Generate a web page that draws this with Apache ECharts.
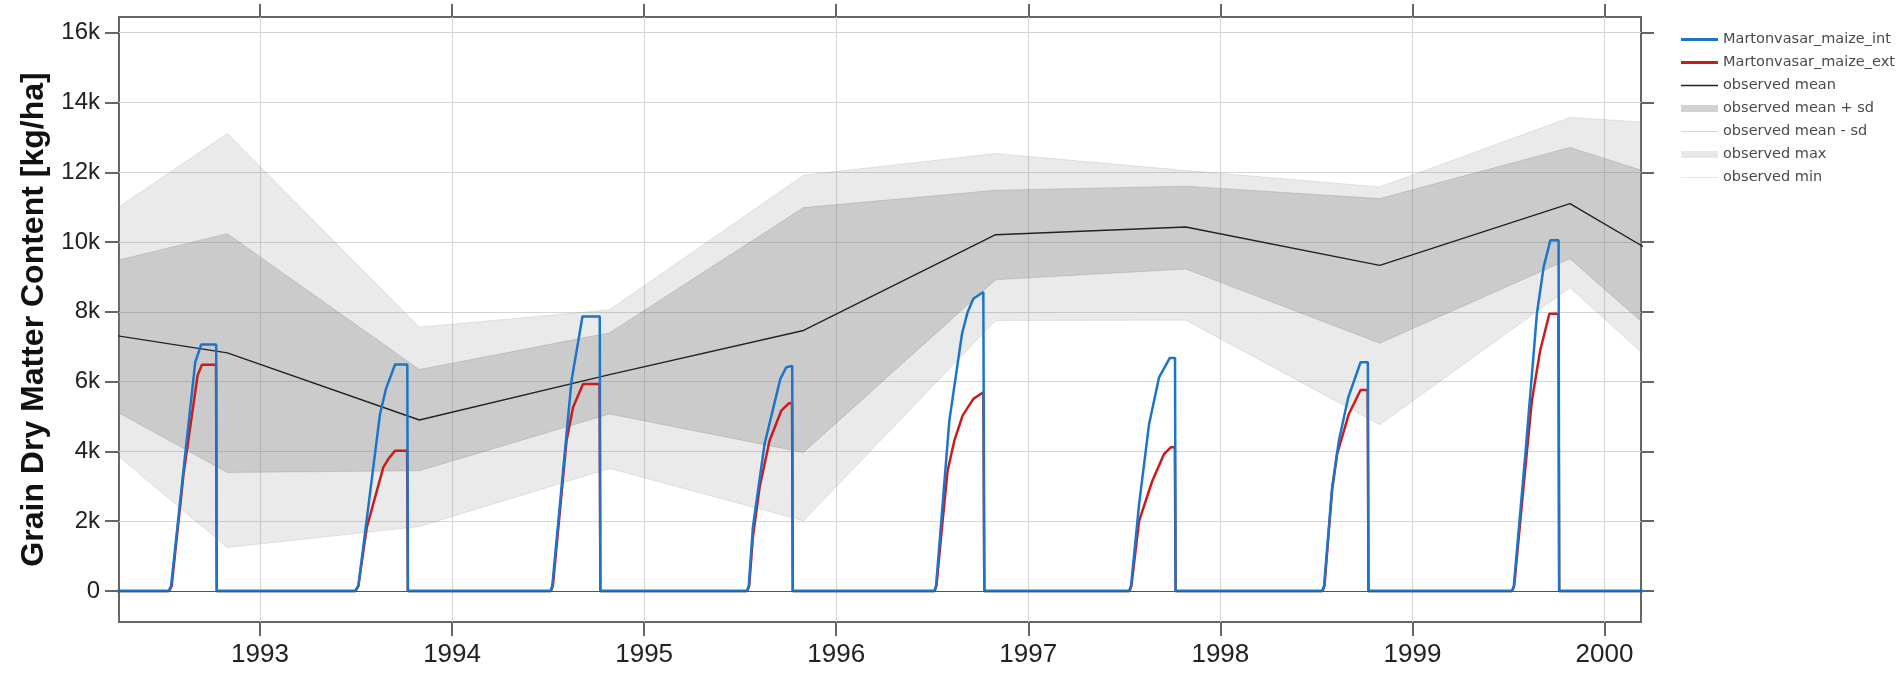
<!DOCTYPE html>
<html>
<head>
<meta charset="utf-8">
<script src="https://cdn.jsdelivr.net/npm/echarts@6/dist/echarts.min.js"></script>
<style>
html,body{margin:0;padding:0;background:#fff;}
#chart{width:1903px;height:673px;}
</style>
</head>
<body>
<div id="chart"></div>
<script>
// ---- tick labels ----
const xTicks = [1993, 1994, 1995, 1996, 1997, 1998, 1999, 2000];
const yTicks = [0, 2000, 4000, 6000, 8000, 10000, 12000, 14000, 16000];

// ---- observations (decimal year of harvest) ----
const obsDates        = [1991.83, 1992.83, 1993.83, 1994.82, 1995.83, 1996.83, 1997.82, 1998.83, 1999.82, 2000.82];
const obsMean         = [7677, 6825, 4900, 6200, 7465, 10211, 10431, 9331, 11102, 7867];
const obsMeanPlusSd   = [8907, 10241, 6345, 7399, 10987, 11485, 11600, 11245, 12710, 10959];
const obsMeanMinusSd  = [6421, 3397, 3445, 5073, 3971, 8920, 9226, 7101, 9523, 4673];
const obsMax          = [9387, 13110, 7560, 8059, 11915, 12538, 12050, 11580, 13572, 13223];
const obsMin          = [5857, 1244, 1846, 3512, 2010, 7752, 7762, 4766, 8691, 3705];

// ---- simulated series [decimal year, kg/ha] ----
const simInt = [
  [1992.20, 0],
  [1992.524, 0], [1992.537, 140], [1992.602, 3480], [1992.663, 6556], [1992.694, 7063], [1992.772, 7063], [1992.775, 0],
  [1993.495, 0], [1993.512, 140], [1993.625, 5073], [1993.656, 5791], [1993.703, 6489], [1993.767, 6489], [1993.770, 0],
  [1994.513, 0], [1994.522, 150], [1994.622, 6029], [1994.679, 7867], [1994.769, 7867], [1994.772, 0],
  [1995.535, 0], [1995.545, 150], [1995.566, 1818], [1995.627, 4211], [1995.709, 6077], [1995.740, 6411], [1995.771, 6450], [1995.774, 0],
  [1996.511, 0], [1996.520, 150], [1996.589, 4881], [1996.655, 7370], [1996.684, 7991], [1996.714, 8375], [1996.766, 8566], [1996.771, 0],
  [1997.525, 0], [1997.535, 150], [1997.577, 2488], [1997.629, 4786], [1997.681, 6124], [1997.737, 6680], [1997.764, 6680], [1997.767, 0],
  [1998.530, 0], [1998.540, 150], [1998.582, 2966], [1998.617, 4307], [1998.666, 5550], [1998.730, 6555], [1998.768, 6555], [1998.771, 0],
  [1999.518, 0], [1999.528, 150], [1999.588, 3925], [1999.648, 7944], [1999.683, 9282], [1999.718, 10048], [1999.761, 10048], [1999.764, 0],
  [2000.25, 0]
];
const simExt = [
  [1992.20, 0],
  [1992.527, 0], [1992.540, 140], [1992.602, 3350], [1992.675, 6173], [1992.698, 6486], [1992.771, 6486], [1992.775, 0],
  [1993.498, 0], [1993.512, 140], [1993.556, 1818], [1993.642, 3540], [1993.668, 3780], [1993.703, 4019], [1993.766, 4019], [1993.770, 0],
  [1994.515, 0], [1994.525, 150], [1994.596, 4307], [1994.630, 5263], [1994.682, 5934], [1994.768, 5934], [1994.772, 0],
  [1995.537, 0], [1995.547, 150], [1995.566, 1531], [1995.601, 2966], [1995.653, 4307], [1995.714, 5168], [1995.753, 5378], [1995.770, 5378], [1995.774, 0],
  [1996.513, 0], [1996.522, 150], [1996.554, 2010], [1996.580, 3445], [1996.615, 4307], [1996.658, 5025], [1996.714, 5504], [1996.766, 5694], [1996.771, 0],
  [1997.527, 0], [1997.537, 150], [1997.577, 2010], [1997.646, 3158], [1997.707, 3925], [1997.742, 4115], [1997.763, 4115], [1997.767, 0],
  [1998.532, 0], [1998.542, 150], [1998.582, 2900], [1998.608, 3925], [1998.669, 5073], [1998.730, 5761], [1998.767, 5761], [1998.771, 0],
  [1999.520, 0], [1999.530, 150], [1999.588, 3540], [1999.622, 5455], [1999.665, 6890], [1999.713, 7944], [1999.760, 7944], [1999.764, 0],
  [2000.25, 0]
];

const names = {
  int: 'Martonvasar_maize_int',
  ext: 'Martonvasar_maize_ext',
  mean: 'observed mean',
  plus: 'observed mean + sd',
  minus: 'observed mean - sd',
  max: 'observed max',
  min: 'observed min'
};

const pair = (arr) => obsDates.map((t, i) => [t, arr[i]]);

const chart = echarts.init(document.getElementById('chart'), null, {renderer: 'canvas'});

const xMin = 1992.266, xMax = 2000.19;
const yMin = -890, yMax = 16450;

const axisColor = '#666';
const gridColor = '#d4d4d4';

const line = (name, data, color, width, extra) => Object.assign({
  name, type: 'line', data, showSymbol: false, symbol: 'none',
  lineStyle: {color, width}, itemStyle: {color},
  emphasis: {disabled: true}, animation: false, clip: true
}, extra || {});

// filled band between two observed series, drawn through the axis scales
const band = (id, hi, lo, fill) => ({
  id, type: 'custom', silent: true, clip: true, animation: false,
  data: [[obsDates[1], hi[1]]],
  renderItem: (params, api) => {
    const top = obsDates.map((t, i) => api.coord([t, hi[i]]));
    const bot = obsDates.map((t, i) => api.coord([t, lo[i]])).reverse();
    const cs = params.coordSys;
    return {
      type: 'group',
      clipPath: {type: 'rect', shape: {x: cs.x, y: cs.y, width: cs.width, height: cs.height}},
      children: [{type: 'polygon', shape: {points: top.concat(bot)}, style: {fill}}]
    };
  }
});

chart.setOption({
  backgroundColor: '#fff',
  animation: false,
  grid: {left: 119, right: 262, top: 17, bottom: 51, show: true, borderColor: axisColor, borderWidth: 2, backgroundColor: 'transparent'},
  legend: {
    orient: 'vertical', left: 1676, top: 27, itemWidth: 37, itemHeight: 14, itemGap: 8,
    selectedMode: false,
    textStyle: {fontFamily: 'DejaVu Sans', fontSize: 14.5, color: '#4a4a4a'},
    data: [
      {name: names.int, icon: 'path://M0 0H37V3H0Z', itemStyle: {color: '#1b75c9', borderWidth: 0}},
      {name: names.ext, icon: 'path://M0 0H37V3H0Z', itemStyle: {color: '#cc1b1b', borderWidth: 0}},
      {name: names.mean, icon: 'path://M0 0H37V1.5H0Z', itemStyle: {color: '#222', borderWidth: 0}},
      {name: names.plus, icon: 'path://M0 0H37V7H0Z', itemStyle: {color: '#d2d2d2', borderWidth: 0}},
      {name: names.minus, icon: 'path://M0 0H37V1H0Z', itemStyle: {color: '#d6d6d6', borderWidth: 0}},
      {name: names.max, icon: 'path://M0 0H37V7H0Z', itemStyle: {color: '#e8e8e8', borderWidth: 0}},
      {name: names.min, icon: 'path://M0 0H37V1H0Z', itemStyle: {color: '#e8e8e8', borderWidth: 0}}
    ]
  },
  xAxis: [{
    type: 'value', min: xMin, max: xMax, splitNumber: 8, position: 'bottom',
    axisLine: {show: false, onZero: false},
    axisTick: {show: true, inside: false, length: 14, customValues: xTicks, lineStyle: {color: axisColor, width: 2}},
    axisLabel: {customValues: xTicks, margin: 20, color: '#222', fontFamily: 'Liberation Sans, Arial, sans-serif', fontSize: 26, formatter: (v) => String(Math.round(v))},
    splitLine: {show: true, lineStyle: {color: gridColor, width: 1}}
  }, {
    type: 'value', min: xMin, max: xMax, splitNumber: 8, position: 'top',
    axisLine: {show: false, onZero: false},
    axisTick: {show: true, inside: false, length: 13, customValues: xTicks, lineStyle: {color: axisColor, width: 2}},
    axisLabel: {show: false},
    splitLine: {show: false}
  }],
  yAxis: [{
    type: 'value', min: yMin, max: yMax, splitNumber: 8, position: 'left',
    name: 'Grain Dry Matter Content [kg/ha]', nameLocation: 'middle', nameGap: 63, nameRotate: 90,
    nameTextStyle: {fontFamily: 'Liberation Sans, Arial, sans-serif', fontWeight: 'bold', fontSize: 32, color: '#111'},
    axisLine: {show: false, onZero: false},
    axisTick: {show: true, inside: false, length: 14, customValues: yTicks, lineStyle: {color: axisColor, width: 2}},
    axisLabel: {customValues: yTicks, margin: 19, color: '#222', fontFamily: 'Liberation Sans, Arial, sans-serif', fontSize: 24,
      formatter: (v) => v === 0 ? '0' : (v / 1000) + 'k'},
    splitLine: {show: true, lineStyle: {color: gridColor, width: 1}}
  }, {
    type: 'value', min: yMin, max: yMax, splitNumber: 8, position: 'right',
    axisLine: {show: false, onZero: false},
    axisTick: {show: true, inside: false, length: 13, customValues: yTicks, lineStyle: {color: axisColor, width: 2}},
    axisLabel: {show: false},
    splitLine: {show: false}
  }],
  series: [
    band('rangeBand', obsMax, obsMin, 'rgba(128,128,128,0.17)'),
    band('sdBand', obsMeanPlusSd, obsMeanMinusSd, 'rgba(128,128,128,0.29)'),
    line(names.min, pair(obsMin), 'rgba(150,150,150,0.22)', 1, {
      markLine: {silent: true, symbol: 'none', label: {show: false}, animation: false,
        lineStyle: {color: '#555', width: 1, type: 'solid'}, data: [{yAxis: 0}]}
    }),
    line(names.max, pair(obsMax), 'rgba(150,150,150,0.22)', 1),
    line(names.minus, pair(obsMeanMinusSd), 'rgba(110,110,110,0.22)', 1),
    line(names.plus, pair(obsMeanPlusSd), 'rgba(110,110,110,0.22)', 1),
    line(names.mean, pair(obsMean), '#222', 1.4),
    line(names.ext, simExt, '#cc1b1b', 2.5),
    line(names.int, simInt, '#1b75c9', 2.5)
  ]
});
</script>
</body>
</html>
